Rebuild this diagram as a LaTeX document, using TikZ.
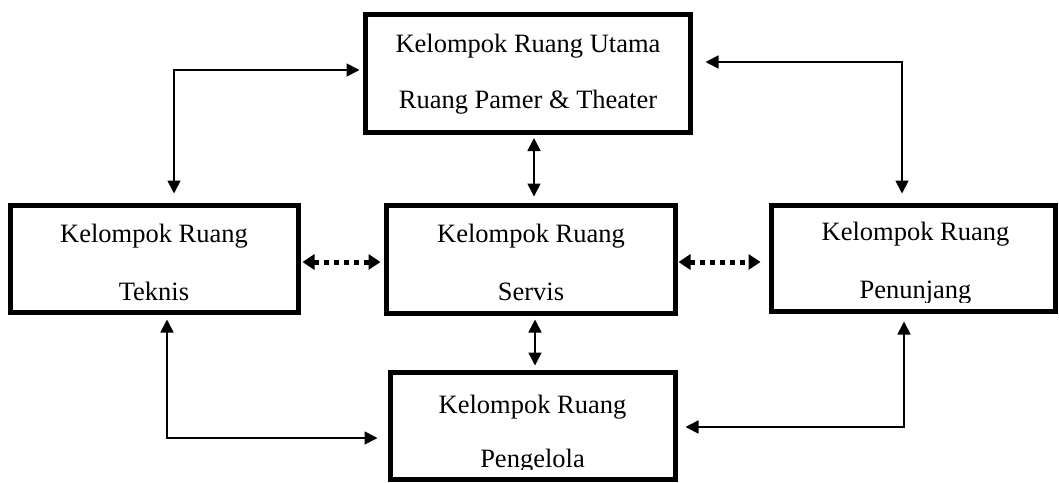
\documentclass[tikz,border=0pt]{standalone}
\usepackage{fontspec}
\setmainfont{Liberation Serif}
\usetikzlibrary{arrows.meta}

\begin{document}
\begin{tikzpicture}[x=1pt, y=-1pt,
  roombox/.style={draw=black, line width=5pt, fill=white, rectangle, inner sep=0pt},
  lbl/.style={inner sep=0pt, anchor=base, font=\fontsize{26.5}{30}\selectfont},
  conn/.style={line width=1.7pt, line join=miter,
    arrows={Triangle[length=13pt, width=13pt]-Triangle[length=13pt, width=13pt]}},
  dotconn/.style={line width=5pt, dash pattern=on 5pt off 5pt,
    arrows={Triangle[length=12pt, width=15pt]-Triangle[length=12pt, width=15pt]}}]

\useasboundingbox (0,0) rectangle (1059,482);

% room group boxes
\node[roombox, minimum width=325pt, minimum height=117.5pt] (utama) at (528,73.25) {};
\node[roombox, minimum width=288pt, minimum height=107pt] (teknis) at (154,258.5) {};
\node[roombox, minimum width=289pt, minimum height=108pt] (servis) at (530.5,259) {};
\node[roombox, minimum width=284pt, minimum height=106pt] (penunjang) at (913,258) {};
\node[roombox, minimum width=285.5pt, minimum height=107pt] (pengelola) at (532.75,426) {};

% box captions
\node[lbl] (utamaA) at (528,52) {Kelompok Ruang Utama};
\node[lbl] (utamaB) at (528,108) {Ruang Pamer \& Theater};
\node[lbl] (teknisA) at (154,242) {Kelompok Ruang};
\node[lbl] (teknisB) at (154,300) {Teknis};
\node[lbl] (servisA) at (531,242) {Kelompok Ruang};
\node[lbl] (servisB) at (531,300) {Servis};
\node[lbl] (penunjangA) at (915.5,240) {Kelompok Ruang};
\begin{scope}
  \clip (772,270) rectangle (1054,302);
  \node[lbl] (penunjangB) at (915.5,298) {Penunjang};
\end{scope}
\node[lbl] (pengelolaA) at (532.5,413) {Kelompok Ruang};
\begin{scope}
  \clip (392,430) rectangle (673,469);
  \node[lbl] (pengelolaB) at (532.5,467) {Pengelola};
\end{scope}

% corner points of the elbow connectors
\coordinate (tl) at (174,70);
\coordinate (tr) at (902,62);
\coordinate (bl) at (167,438);
\coordinate (br) at (904,427);

% elbow connectors
\draw[conn, shorten <=9pt, shorten >=3.5pt] (tl |- teknis.north) -- (tl) -- (tl -| utama.west);
\draw[conn, shorten <=12.5pt, shorten >=9pt] (tr -| utama.east) -- (tr) -- (tr |- penunjang.north);
\draw[conn, shorten <=5pt, shorten >=10pt] (bl |- teknis.south) -- (bl) -- (bl -| pengelola.west);
\draw[conn, shorten <=7.5pt, shorten >=8pt] (br -| pengelola.east) -- (br) -- (br |- penunjang.south);

% straight connectors around the service group
\draw[conn, shorten <=6pt, shorten >=3.5pt] ([xshift=3.5pt]servis.north) -- ([xshift=3.5pt]servis.north |- utama.south);
\draw[conn, shorten <=4pt, shorten >=4.5pt] ([xshift=4.5pt]servis.south) -- ([xshift=4.5pt]servis.south |- pengelola.north);

% dotted connectors
\draw[dotconn, shorten <=2pt, shorten >=3pt] ([yshift=-3.5pt]teknis.east) -- ([yshift=-3.5pt]teknis.east -| servis.west);
\draw[dotconn, shorten <=1pt, shorten >=8pt] ([yshift=-3pt]servis.east) -- ([yshift=-3pt]servis.east -| penunjang.west);
\end{tikzpicture}
\end{document}
